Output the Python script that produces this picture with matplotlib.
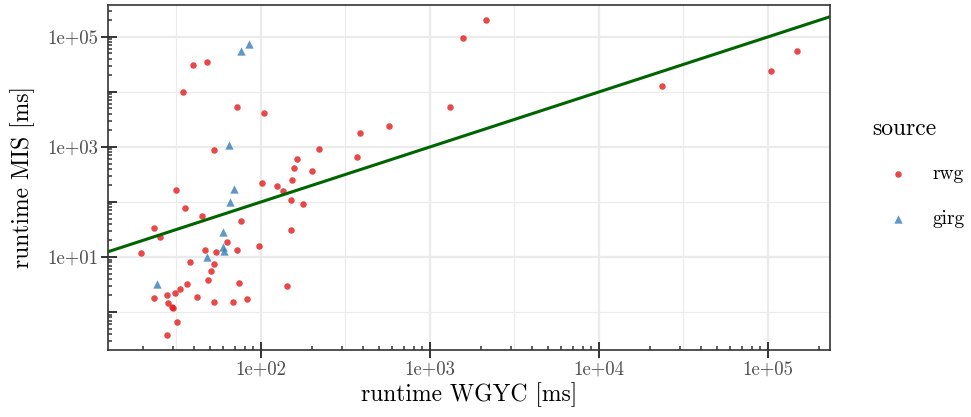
import numpy as np
import matplotlib
matplotlib.use("Agg")
import matplotlib.pyplot as plt
from matplotlib.ticker import FixedLocator, NullFormatter, LogLocator

plt.rcParams['font.family'] = 'cmr10'
plt.rcParams['mathtext.fontset'] = 'cm'
plt.rcParams['axes.formatter.use_mathtext'] = True

# runtimes in ms, one entry per instance
rwg_wgyc = [39.4, 48.1, 34.7, 72.4, 104.6, 52.9, 219.5, 163.3, 156.8, 201.7,
            100.9, 123.9, 153.2, 134.4, 150.5, 177.2, 31.3, 35.5, 44.9, 23.4,
            25.4, 76.2, 150.5, 62.7, 46.8, 54.2, 72.4, 97.3, 19.5, 38.0,
            52.5, 50.4, 48.4, 73.8, 36.5, 142.5, 33.2, 31.0, 27.7, 23.4,
            41.7, 82.6, 28.3, 29.6, 30.0, 52.5, 68.6, 31.7, 27.7, 385,
            570, 368, 2153, 1567, 1314, 23600, 103700, 148500]
rwg_mis = [30550, 35100, 10000, 5270, 4100, 881, 931, 593, 410, 371,
           224, 195, 248, 160, 109, 90.8, 167, 77.8, 56.4, 34.1,
           22.8, 45.2, 31.3, 18.7, 13.6, 12.3, 13.6, 15.7, 11.8, 8.0,
           7.55, 5.5, 3.82, 3.41, 3.19, 2.97, 2.59, 2.19, 2.06, 1.77,
           1.87, 1.75, 1.44, 1.25, 1.16, 1.50, 1.52, 0.65, 0.377, 1800,
           2380, 650, 203700, 97100, 5400, 13000, 23800, 56400]

girg_wgyc = [84.9, 76.2, 64.9, 68.9, 65.3, 59.4, 59.8, 60.4, 47.7, 24.3]
girg_mis = [73700, 55700, 1090, 172, 100, 28.5, 15.5, 12.9, 9.9, 3.23]

x_breaks = [1e2, 1e3, 1e4, 1e5]
x_labels = ['1e+02', '1e+03', '1e+04', '1e+05']
x_minor_grid = [10**1.5, 10**2.5, 10**3.5, 10**4.5]
y_breaks = [1e1, 1e3, 1e5]
y_labels = ['1e+01', '1e+03', '1e+05']
y_minor_grid = [1e0, 1e2, 1e4]

dark = '#333333'
grid_col = '#ebebeb'

fig = plt.figure(figsize=(9.71, 4.17), dpi=100)
ax = fig.add_axes([108 / 971, 67 / 417, 722 / 971, 345 / 417])
ax.set_xscale('log')
ax.set_yscale('log')
ax.set_xlim(12.45, 232800)
ax.set_ylim(0.204, 380000)

# panel grid
for v in x_breaks:
    ax.axvline(v, color=grid_col, lw=1.6, zorder=0)
for v in x_minor_grid:
    ax.axvline(v, color=grid_col, lw=0.8, zorder=0)
for v in y_breaks:
    ax.axhline(v, color=grid_col, lw=1.6, zorder=0)
for v in y_minor_grid:
    ax.axhline(v, color=grid_col, lw=0.8, zorder=0)

ax.scatter(rwg_wgyc, rwg_mis, s=22, marker='o', color='#E41A1C', alpha=0.8,
           linewidths=0, label='rwg', zorder=3)
ax.scatter(girg_wgyc, girg_mis, s=36, marker='^', color='#377EB8', alpha=0.8,
           linewidths=0, label='girg', zorder=3)
ax.axline((1, 1), (10, 10), color='#006400', lw=2.2, zorder=4)

for sp in ax.spines.values():
    sp.set_color(dark)
    sp.set_linewidth(1.2)

# x axis: labelled decades with long ticks, log ticks inside
ax.xaxis.set_major_locator(FixedLocator(x_breaks))
ax.set_xticklabels(x_labels)
ax.xaxis.set_minor_locator(LogLocator(base=10, subs=np.arange(2, 10)))
ax.xaxis.set_minor_formatter(NullFormatter())
ax.tick_params(axis='x', which='major', direction='inout', length=11,
               width=1.4, color=dark, labelcolor='#4d4d4d', labelsize=13.5, pad=2)
ax.tick_params(axis='x', which='minor', direction='in', length=3,
               width=1.1, color=dark)

# y axis: every decade gets an inner tick, labels every second decade
ax.yaxis.set_major_locator(FixedLocator([1e-1, 1e0, 1e1, 1e2, 1e3, 1e4, 1e5]))
ax.yaxis.set_major_formatter(NullFormatter())
ax.yaxis.set_minor_locator(LogLocator(base=10, subs=np.arange(2, 10)))
ax.yaxis.set_minor_formatter(NullFormatter())
ax.tick_params(axis='y', which='major', direction='in', length=6.5,
               width=1.4, color=dark)
ax.tick_params(axis='y', which='minor', direction='in', length=3,
               width=1.1, color=dark)

sec = ax.secondary_yaxis('left')
sec.set_yticks(y_breaks)
sec.set_yticklabels(y_labels)
sec.yaxis.set_minor_locator(FixedLocator([]))
sec.spines['left'].set_visible(False)
sec.tick_params(axis='y', which='major', direction='out', length=5,
                width=1.4, color=dark, labelcolor='#4d4d4d', labelsize=13.5, pad=2)

ax.set_xlabel('runtime WGYC [ms]', fontsize=17, labelpad=3)
sec.set_ylabel('runtime MIS [ms]', fontsize=17, labelpad=9)

leg = fig.legend(loc='upper left', bbox_to_anchor=(0.8798, 0.76), frameon=False,
                 title='source', title_fontsize=17, fontsize=14,
                 labelspacing=1.4, handlelength=2.72, handletextpad=0.39,
                 markerscale=1.0)
leg._legend_box.align = 'left'
leg._legend_box.sep = 18

fig.savefig('out.png', dpi=100)
